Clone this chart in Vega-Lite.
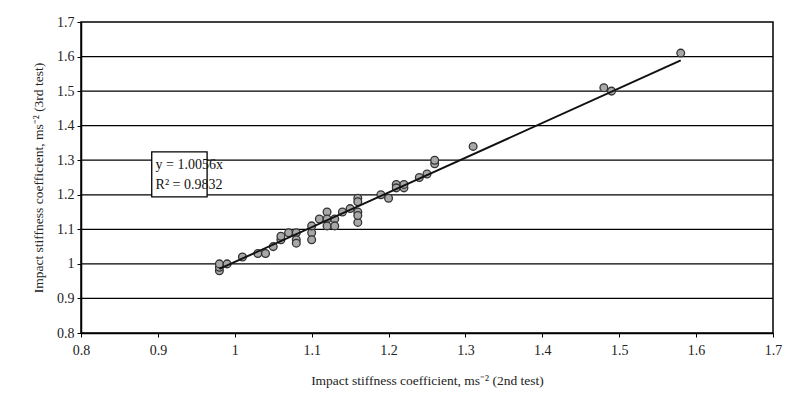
{
  "$schema": "https://vega.github.io/schema/vega-lite/v6.json",
  "width": 692,
  "height": 311,
  "autosize": {"type": "none"},
  "padding": {"left": 81, "top": 22, "right": 15, "bottom": 76},
  "background": "white",
  "config": {
    "font": "Liberation Serif",
    "view": {"stroke": "black", "strokeWidth": 1.5},
    "axis": {"labelFont": "Liberation Serif", "titleFont": "Liberation Serif", "labelFontSize": 14, "titleFontSize": 13.5, "titleFontWeight": "normal", "labelColor": "#222", "titleColor": "#222", "domainColor": "black", "tickColor": "black", "domainWidth": 1.5, "labelOverlap": false, "labelFlush": false, "labelBound": false}
  },
  "datasets": {
    "pts": [
      {"a": 0.98, "b": 0.98}, {"a": 0.98, "b": 0.99}, {"a": 0.98, "b": 1.00}, {"a": 0.99, "b": 1.00},
      {"a": 1.01, "b": 1.02}, {"a": 1.03, "b": 1.03}, {"a": 1.04, "b": 1.03}, {"a": 1.05, "b": 1.05},
      {"a": 1.06, "b": 1.07}, {"a": 1.06, "b": 1.08}, {"a": 1.07, "b": 1.09}, {"a": 1.08, "b": 1.09},
      {"a": 1.08, "b": 1.07}, {"a": 1.08, "b": 1.06}, {"a": 1.10, "b": 1.09}, {"a": 1.10, "b": 1.07},
      {"a": 1.10, "b": 1.11}, {"a": 1.11, "b": 1.13}, {"a": 1.12, "b": 1.15}, {"a": 1.12, "b": 1.13},
      {"a": 1.12, "b": 1.11}, {"a": 1.13, "b": 1.13}, {"a": 1.13, "b": 1.11}, {"a": 1.14, "b": 1.15},
      {"a": 1.15, "b": 1.16}, {"a": 1.16, "b": 1.15}, {"a": 1.16, "b": 1.19}, {"a": 1.16, "b": 1.18},
      {"a": 1.16, "b": 1.12}, {"a": 1.16, "b": 1.14}, {"a": 1.19, "b": 1.20}, {"a": 1.20, "b": 1.19},
      {"a": 1.21, "b": 1.23}, {"a": 1.21, "b": 1.22}, {"a": 1.22, "b": 1.22}, {"a": 1.22, "b": 1.23},
      {"a": 1.24, "b": 1.25}, {"a": 1.25, "b": 1.26}, {"a": 1.26, "b": 1.29}, {"a": 1.26, "b": 1.30},
      {"a": 1.31, "b": 1.34}, {"a": 1.48, "b": 1.51}, {"a": 1.49, "b": 1.50}, {"a": 1.58, "b": 1.61}
    ],
    "grid": [{"g": 0.9}, {"g": 1.0}, {"g": 1.1}, {"g": 1.2}, {"g": 1.3}, {"g": 1.4}, {"g": 1.5}, {"g": 1.6}],
    "fit": [{"a": 0.98, "b": 0.9855}, {"a": 1.58, "b": 1.5888}],
    "box": [{"x1": 0.892, "x2": 0.964, "y1": 1.194, "y2": 1.324}],
    "lbl": [{"a": 0.897, "b": 1.286, "t": "y = 1.0056x"}, {"a": 0.897, "b": 1.228, "t": "R² = 0.9832"}]
  },
  "layer": [
    {
      "data": {"name": "grid"},
      "mark": {"type": "rule", "color": "black", "strokeWidth": 1.3},
      "encoding": {"y": {"field": "g", "type": "quantitative"}}
    },
    {
      "data": {"name": "pts"},
      "mark": {"type": "point", "filled": true, "fill": "#a8a8a8", "stroke": "#333", "strokeWidth": 1.3, "size": 60, "opacity": 1},
      "encoding": {
        "x": {"field": "a", "type": "quantitative", "scale": {"domain": [0.8, 1.7], "nice": false, "zero": false},
          "axis": {"values": [0.8, 0.9, 1, 1.1, 1.2, 1.3, 1.4, 1.5, 1.6, 1.7], "tickCount": 10, "labelExpr": "format(datum.value, '~g')", "grid": false, "tickSize": 4, "labelPadding": 6, "titlePadding": 16,
            "title": "Impact stiffness coefficient, ms⁻² (2nd test)"}},
        "y": {"field": "b", "type": "quantitative", "scale": {"domain": [0.8, 1.7], "nice": false, "zero": false},
          "axis": {"values": [0.8, 0.9, 1, 1.1, 1.2, 1.3, 1.4, 1.5, 1.6, 1.7], "tickCount": 10, "labelExpr": "format(datum.value, '~g')", "grid": false, "tickSize": 4, "labelPadding": 3, "titlePadding": 11,
            "title": "Impact stiffness coefficient, ms⁻² (3rd test)"}}
      }
    },
    {
      "data": {"name": "fit"},
      "mark": {"type": "line", "color": "#111", "strokeWidth": 2},
      "encoding": {"x": {"field": "a", "type": "quantitative"}, "y": {"field": "b", "type": "quantitative"}}
    },
    {
      "data": {"name": "box"},
      "mark": {"type": "rect", "fill": "white", "fillOpacity": 1, "opacity": 1, "stroke": "black", "strokeWidth": 1.3},
      "encoding": {"x": {"field": "x1", "type": "quantitative"}, "x2": {"field": "x2"}, "y": {"field": "y1", "type": "quantitative"}, "y2": {"field": "y2"}}
    },
    {
      "data": {"name": "lbl"},
      "mark": {"type": "text", "align": "left", "baseline": "middle", "fontSize": 14, "font": "Liberation Serif", "color": "#111"},
      "encoding": {"x": {"field": "a", "type": "quantitative"}, "y": {"field": "b", "type": "quantitative"}, "text": {"field": "t"}}
    }
  ]
}
